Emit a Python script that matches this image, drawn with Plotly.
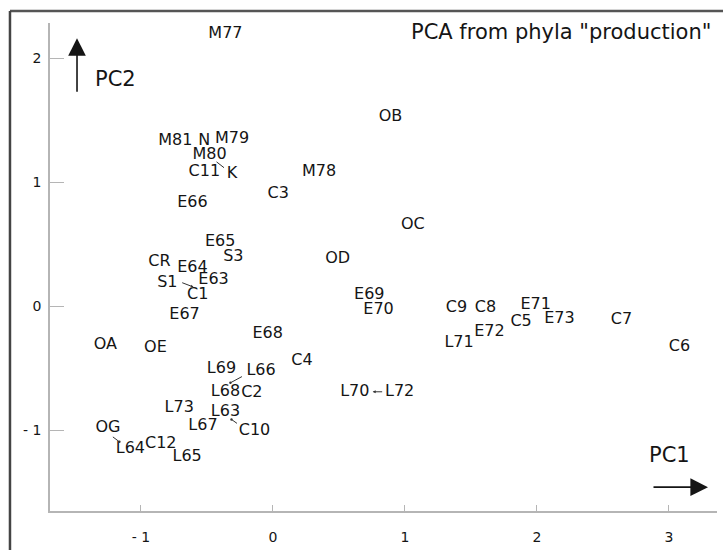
import plotly.graph_objects as go

# ---- data ----
labels = ["M77", "M81", "N", "M79", "M80", "C11", "K", "M78", "OB", "C3",
          "E66", "OC", "E65", "S3", "OD", "CR", "E64", "S1", "E63", "C1",
          "E67", "E69", "E70", "C9", "C8", "E71", "C5", "E73", "C7", "C6",
          "E72", "L71", "E68", "OA", "OE", "C4", "L69", "L66", "L68", "C2",
          "L70", "L72", "L73", "L63", "L67", "C10", "OG", "L64", "C12", "L65"]
pc1 = [-0.36, -0.74, -0.52, -0.31, -0.48, -0.52, -0.31, 0.35, 0.89, 0.04,
       -0.61, 1.06, -0.40, -0.30, 0.49, -0.86, -0.61, -0.80, -0.45, -0.57,
       -0.67, 0.73, 0.80, 1.39, 1.61, 1.99, 1.88, 2.17, 2.64, 3.08,
       1.64, 1.41, -0.04, -1.27, -0.89, 0.22, -0.39, -0.09, -0.36, -0.16,
       0.62, 0.96, -0.71, -0.36, -0.53, -0.14, -1.25, -1.08, -0.85, -0.65]
pc2 = [2.20, 1.33, 1.33, 1.35, 1.22, 1.08, 1.07, 1.08, 1.53, 0.91,
       0.83, 0.66, 0.52, 0.40, 0.38, 0.36, 0.31, 0.19, 0.21, 0.09,
       -0.07, 0.09, -0.03, -0.01, -0.01, 0.01, -0.13, -0.10, -0.11, -0.33,
       -0.21, -0.30, -0.22, -0.31, -0.34, -0.44, -0.51, -0.52, -0.69, -0.70,
       -0.69, -0.69, -0.82, -0.85, -0.97, -1.01, -0.98, -1.15, -1.11, -1.22]

x_tickvals = [-1, 0, 1, 2, 3]
x_ticktext = ["- 1", "0", "1", "2", "3"]
y_tickvals = [-1, 0, 1, 2]
y_ticktext = ["- 1", "0", "1", "2"]

# leader lines: (anchor label, head shift x, head shift y, tail dx, tail dy, arrowhead)
leaders = [("C1", -4, 8, -13, -5, 2),
           ("L64", -11, 7, -8, -6, 6),
           ("K", -8, 6, -9, -7, 0),
           ("L68", 5, 9, 13, -7, 6),
           ("C10", -23, 12, 7, 5, 6),
           ("L72", -27, 0, 11, 0, 2)]

FONT = "DejaVu Sans"
INK = "#151515"
AXC = "#b5b5b5"

fig = go.Figure()
fig.add_trace(go.Scatter(
    x=pc1, y=pc2, text=labels, mode="text", textposition="middle center",
    textfont=dict(family=FONT, size=16, color=INK), hoverinfo="text",
    showlegend=False))

for name, sx, sy, tdx, tdy, head in leaders:
    i = labels.index(name)
    fig.add_annotation(x=pc1[i], y=pc2[i], xref="x", yref="y", xshift=sx, yshift=sy,
                       ax=tdx, ay=tdy, axref="pixel", ayref="pixel", text="",
                       showarrow=True, arrowhead=head, arrowsize=0.6, arrowwidth=1,
                       arrowcolor="#333")

# title & axis-name arrows
fig.add_annotation(x=0.994, y=0.982, xref="paper", yref="paper", xanchor="right",
                   yanchor="middle", text='PCA from phyla "production"', showarrow=False,
                   font=dict(family=FONT, size=21, color=INK))
fig.add_annotation(x=0.0975, y=0.886, xref="paper", yref="paper", text="PC2",
                   xanchor="center", yanchor="middle",
                   showarrow=False, font=dict(family=FONT, size=21, color=INK))
fig.add_annotation(x=0.9295, y=0.114, xref="paper", yref="paper", text="PC1",
                   xanchor="center", yanchor="middle",
                   showarrow=False, font=dict(family=FONT, size=21, color=INK))
fig.add_annotation(x=0.0405, y=0.969, xref="paper", yref="paper", ax=0, ay=55,
                   axref="pixel", ayref="pixel", text="", showarrow=True, arrowhead=2,
                   arrowsize=2.2, arrowwidth=1.6, arrowcolor=INK)
fig.add_annotation(x=0.9865, y=0.0489, xref="paper", yref="paper", ax=-56, ay=0,
                   axref="pixel", ayref="pixel", text="", showarrow=True, arrowhead=2,
                   arrowsize=2.2, arrowwidth=1.6, arrowcolor=INK)

# outer frame (top and left edges of the scanned box)
fig.add_shape(type="line", xref="paper", yref="paper", x0=-0.06, x1=1.02,
              y0=1.0244, y1=1.0244, line=dict(color="#555", width=2.5))
fig.add_shape(type="line", xref="paper", yref="paper", x0=-0.06, x1=-0.06,
              y0=1.0244, y1=-0.08, line=dict(color="#444", width=2.5))

fig.update_xaxes(range=[-1.689, 3.364], tickvals=x_tickvals, ticktext=x_ticktext,
                 showgrid=False, zeroline=False, showline=True, linecolor=AXC,
                 linewidth=1.5, ticks="inside", ticklen=6, tickcolor=AXC,
                 ticklabelstandoff=12,
                 tickfont=dict(family=FONT, size=14, color=INK))
fig.update_yaxes(range=[-1.652, 2.286], tickvals=y_tickvals, ticktext=y_ticktext,
                 showgrid=False, zeroline=False, showline=True, linecolor=AXC,
                 linewidth=1.5, ticks="inside", ticklen=14, tickcolor=AXC,
                 ticklabelstandoff=4,
                 tickfont=dict(family=FONT, size=14, color=INK))
fig.update_layout(width=723, height=551, margin=dict(l=50, r=6, t=23, b=37),
                  plot_bgcolor="white", paper_bgcolor="white")

fig.write_html("out.html")
